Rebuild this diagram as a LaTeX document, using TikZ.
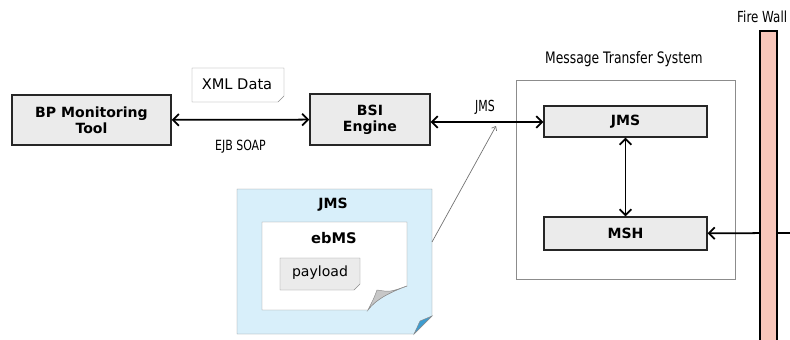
\documentclass[tikz,border=0pt]{standalone}
\usepackage{fontspec}
\usepackage{graphicx}
\setmainfont{DejaVu Sans}
\usetikzlibrary{arrows.meta}
\definecolor{boxgray}{HTML}{EBEBEB}
\definecolor{envblue}{HTML}{D8EFFA}
\definecolor{cornerblue}{HTML}{3E9CCF}
\definecolor{wallpink}{HTML}{F8C6BA}
\definecolor{linegray}{HTML}{8C8C8C}
\newcommand{\cond}[1]{\scalebox{0.78}[1]{#1}}
\begin{document}
\begin{tikzpicture}[x=0.03cm,y=-0.03cm,>={Straight Barb[length=5pt,width=10pt]},
    box/.style={draw=black!85,very thick,fill=boxgray,align=center,font=\bfseries\fontsize{12}{13.5}\selectfont},
    lbl/.style={font=\fontsize{12}{14}\selectfont,inner sep=0pt},
    conn/.style={<->,line width=1.5pt}]
    \useasboundingbox (0,0) rectangle (790,340);
    % boxes
    \node[box,minimum width=4.77cm,minimum height=1.5cm] (bpm) at (91.5,120) {BP Monitoring\\Tool};
    \node[box,minimum width=3.6cm,minimum height=1.53cm] (bsi) at (370,119.5) {BSI\\Engine};
    % message transfer system
    \draw[linegray,thin] (516,80) rectangle (735,279);
    \node[lbl,font=\fontsize{13.5}{15}\selectfont] (mtslabel) at (624,59) {\cond{Message Transfer System}};
    \node[box,minimum width=4.89cm,minimum height=0.93cm] (jms) at (625.5,121.5) {JMS};
    \node[box,minimum width=4.89cm,minimum height=0.99cm] (msh) at (625.5,233.5) {MSH};
    % XML data note
    \draw[linegray,fill=white] (192,68) -- (284,68) -- (284,96) -- (278,102) -- (192,102) -- cycle;
    \node[lbl,font=\fontsize{12.5}{14}\selectfont] (xml) at (237,84) {XML Data};
    % arrows
    \draw[conn] (bpm) -- (bsi) node[midway,below=17pt,lbl] (ejb) {\cond{EJB SOAP}};
    \draw[conn] (bsi.east |- 0,122) -- (jms.west |- 0,122);
    \node[lbl,font=\fontsize{13}{15}\selectfont] (jmslabel) at (485,107) {\scalebox{0.72}[1]{JMS}};
    \draw[conn] (jms) -- (msh);
    % JMS envelope
    \draw[linegray,fill=envblue] (237,189) -- (432,189) -- (432,316) -- (414,334) -- (237,334) -- cycle;
    \draw[linegray,fill=cornerblue] (432,316) -- (414,334) -- (420,321) -- cycle;
    \node[lbl,font=\bfseries\fontsize{12}{14}\selectfont] (env) at (333,205) {JMS};
    % ebMS page
    \draw[linegray,fill=white] (262,222) -- (407,222) -- (407,286) .. controls (390,292) and (375,300) .. (368,310) -- (262,310) -- cycle;
    \draw[linegray,fill=black!22] (407,286) .. controls (390,292) .. (377,290) .. controls (374,298) .. (368,310) .. controls (375,300) and (390,292) .. cycle;
    \node[lbl,font=\bfseries\fontsize{12.5}{14}\selectfont] (ebms) at (334,238) {ebMS};
    % payload
    \draw[linegray,fill=boxgray] (280,258) -- (360,258) -- (360,284) -- (354,290) -- (280,290) -- cycle;
    \node[lbl,font=\fontsize{12}{14}\selectfont] (payload) at (320,273) {payload};
    % pointer
    \coordinate (envedge) at (432,242);
    \coordinate (hitpt) at (496,126);
    \draw[->,black!55,line width=0.6pt,>={Straight Barb[length=3pt,width=5pt]}] (envedge) -- (hitpt);
    % fire wall
    \coordinate (outside) at (795,233);
    \draw[conn,-{Straight Barb[length=5pt,width=10pt]}] (outside) -- (msh);
    \draw[very thick,fill=wallpink] (760,31) rectangle (777,350);
    \node[lbl,anchor=west,font=\fontsize{13}{15}\selectfont] (fwlabel) at (737,17) {\scalebox{0.78}[1]{Fire Wall}};
\end{tikzpicture}
\end{document}
